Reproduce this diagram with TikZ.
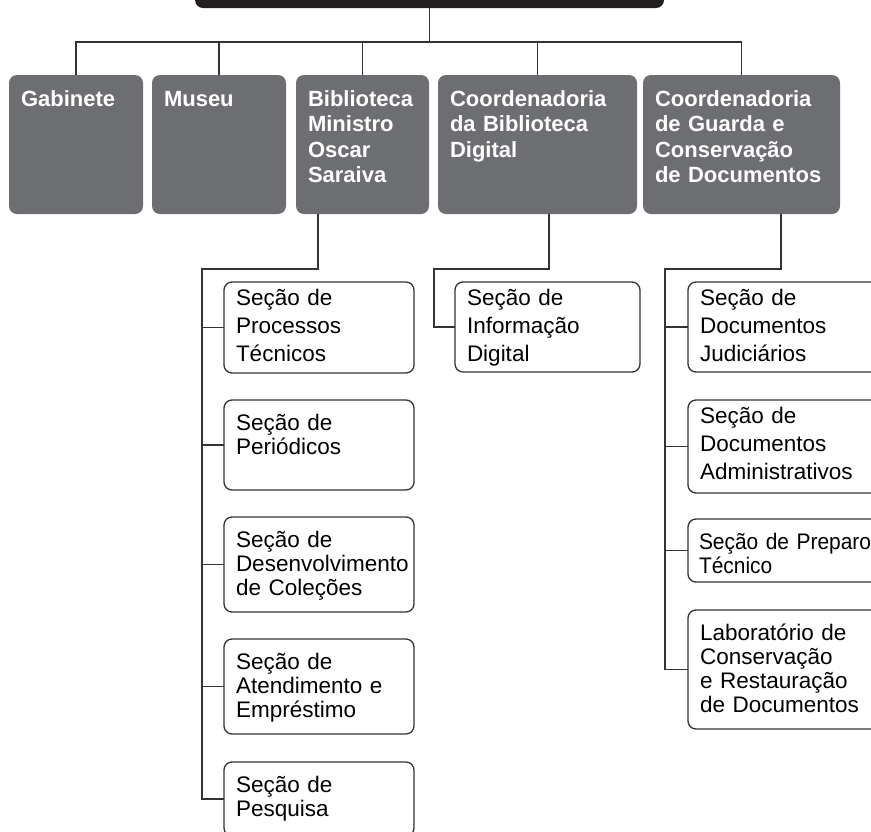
\documentclass[tikz,border=0pt]{standalone}
\usepackage{fontspec}
\setmainfont{Liberation Sans}
\newfontfamily\narrowfont[FakeStretch=0.93]{Liberation Sans}
\usepackage{tikz}
\definecolor{unitgray}{HTML}{6D6E71}
\definecolor{rootblack}{HTML}{231F20}
\definecolor{linkgray}{HTML}{333333}
\tikzstyle{root}=[rectangle, rounded corners=8pt, fill=rootblack, minimum width=469pt, minimum height=50pt, inner sep=0pt, outer sep=0pt]
\tikzstyle{unit}=[rectangle, rounded corners=8pt, fill=unitgray, text=white, anchor=north west, align=left, inner xsep=12pt, inner ysep=0pt, outer sep=0pt, text height=31pt, text depth=108pt, font=\bfseries\fontsize{22}{25.5}\selectfont]
\tikzstyle{secao}=[rectangle, rounded corners=8pt, draw=linkgray, line width=1.3pt, fill=white, anchor=north west, align=left, inner xsep=12pt, inner ysep=0pt, outer sep=0pt, text width=166pt, text height=23pt, font=\fontsize{22.5}{28}\selectfont]
\tikzstyle{secaolow}=[secao, text height=30pt, font=\fontsize{22.5}{24}\selectfont]
\tikzstyle{link}=[draw=linkgray, line width=1.3pt]
\newcommand{\orgunit}{\node[unit]}
\newcommand{\secao}{\node[secao]}
\newcommand{\secaolow}{\node[secaolow]}
\hyphenpenalty=10000
\exhyphenpenalty=10000

\begin{document}
\begin{tikzpicture}[x=1pt, y=-1pt]
\useasboundingbox (0,0) rectangle (871,831);
\node[root, anchor=south] (dir) at (429.5,8) {};

    \orgunit[text width=110pt] (gab) at (9,75) {Gabinete};
    \orgunit[text width=110pt] (museu) at (152,75) {Museu};
    \orgunit[text width=109pt] (bib) at (296,75) {Biblioteca\\Ministro\\Oscar\\Saraiva};
    \orgunit[text width=175pt] (cbd) at (438,75) {Coordenadoria\\da Biblioteca\\Digital};
    \orgunit[text width=173pt] (cgd) at (643,75) {Coordenadoria\\de Guarda e\\Conservação\\de Documentos};

% Biblioteca
    \secao[text depth=68pt] (proc) at (224,282) {Seção de\\Processos\\Técnicos};
    \secaolow[text depth=60pt] (peri) at (224,400) {Seção de\\Periódicos};
    \secaolow[text depth=65pt] (desen) at (224,517) {Seção de\\Desenvolvimento\\de Coleções};
    \secaolow[text depth=65pt] (atend) at (224,639) {Seção de\\Atendimento e\\Empréstimo};
    \secaolow[text depth=44pt] (pesq) at (224,762) {Seção de\\Pesquisa};

% Biblioteca Digital
    \secao[text width=161pt, text depth=67pt] (info) at (455,282) {Seção de\\Informação\\Digital};

% Guarda e Conservação
    \secao[text width=186pt, text depth=67pt] (judic) at (688,282) {Seção de\\Documentos\\Judiciários};
    \secao[text width=186pt, text depth=70pt] (admin) at (688,400) {Seção de\\Documentos\\Administrativos};
    \secaolow[text width=188pt, inner xsep=11pt, text depth=33pt, font=\narrowfont\fontsize{22.5}{24}\selectfont] (prep) at (688,519) {Seção de Preparo\\Técnico};
    \secaolow[text width=186pt, text depth=89pt] (lab) at (688,610) {Laboratório de\\Conservação\\e Restauração\\de Documentos};

    \foreach \u in {gab,museu,bib,cbd,cgd}
        \draw[link] (dir.south) -- ++(0,34) -| (\u.north);
    \foreach \s in {proc,peri,desen,atend,pesq}
        \draw[link] ([xshift=22pt]bib.south west) -- ++(0,55) -| ([xshift=-22pt]\s.west) -- (\s.west);
    \draw[link] ([xshift=111pt]cbd.south west) -- ++(0,55) -| ([xshift=-21pt]info.west) -- (info.west);
    \foreach \s in {judic,admin,prep,lab}
        \draw[link] ([xshift=138pt]cgd.south west) -- ++(0,55) -| ([xshift=-23pt]\s.west) -- (\s.west);
\end{tikzpicture}
\end{document}
